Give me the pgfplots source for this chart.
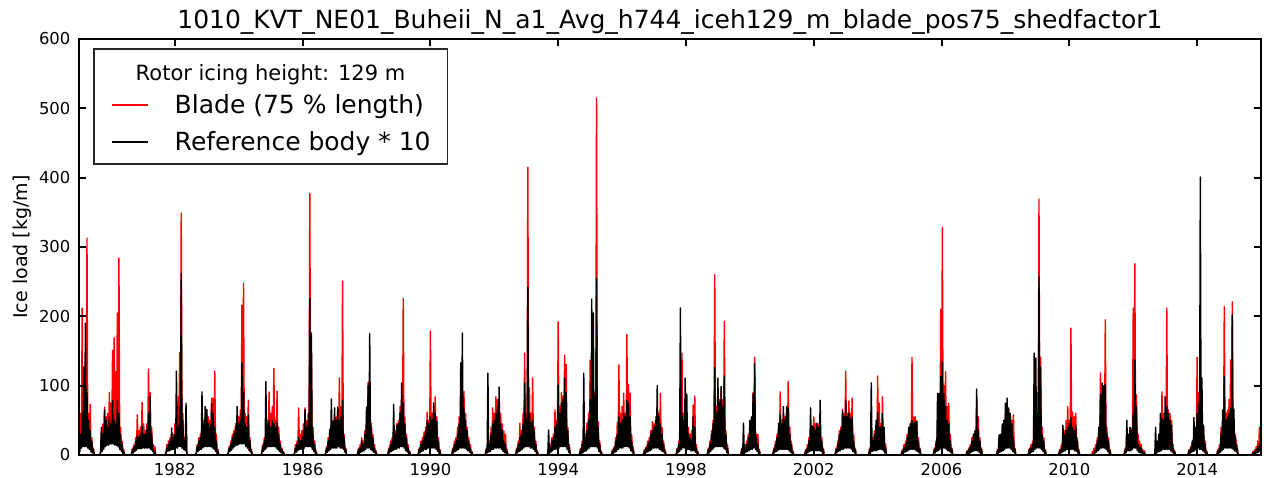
\documentclass[border=0pt]{standalone}
\usepackage{fontspec}
\setmainfont{DejaVu Sans}
\usepackage{pgfplots}
\usepackage{pgfplotstable}
\pgfplotsset{compat=1.18}
\pgfplotstableread{
x r b
1979.000 40 25
1979.025 8 5
1979.050 60 30
1979.075 12 10
1979.100 212 60
1979.125 15 12
1979.150 95 127
1979.175 15 12
1979.200 120 190
1979.225 15 12
1979.250 313 90
1979.275 12 10
1979.300 60 50
1979.325 10 8
1979.350 73 35
1979.375 6 4
1979.400 25 20
1979.425 4 3
1979.450 10 8
1979.475 2 1
1979.500 0 0
1979.650 0 0
1979.675 4 3
1979.700 30 40
1979.725 6 5
1979.750 45 30
1979.775 10 8
1979.800 69 65
1979.825 14 12
1979.850 55 50
1979.875 16 14
1979.900 60 40
1979.925 16 14
1979.950 90 55
1979.975 18 16
1980.000 75 45
1980.025 18 16
1980.050 151 79
1980.075 18 16
1980.100 169 50
1980.125 16 14
1980.150 120 45
1980.175 16 14
1980.200 205 78
1980.225 14 12
1980.250 284 60
1980.275 10 8
1980.300 40 30
1980.325 6 5
1980.350 20 15
1980.375 3 2
1980.400 8 5
1980.425 0 0
1980.625 0 0
1980.650 3 2
1980.675 10 8
1980.700 4 3
1980.725 15 12
1980.750 6 5
1980.775 25 20
1980.800 8 7
1980.825 58 28
1980.850 10 9
1980.875 35 25
1980.900 10 9
1980.925 40 30
1980.950 10 9
1980.975 76 41
1981.000 12 10
1981.025 45 30
1981.050 12 10
1981.075 35 30
1981.100 12 10
1981.125 45 36
1981.150 12 10
1981.175 124 60
1981.200 12 10
1981.225 90 84
1981.250 10 8
1981.275 40 30
1981.300 6 5
1981.325 15 8
1981.350 3 2
1981.375 12 5
1981.400 0 0
1981.700 0 0
1981.725 4 3
1981.750 15 10
1981.775 6 5
1981.800 20 15
1981.825 7 6
1981.850 25 20
1981.875 8 7
1981.900 30 39
1981.925 10 8
1981.950 30 25
1981.975 10 8
1982.000 45 30
1982.025 12 10
1982.050 60 121
1982.075 12 10
1982.100 84 40
1982.125 14 12
1982.150 148 70
1982.175 14 12
1982.200 349 262
1982.225 12 10
1982.250 60 50
1982.275 10 8
1982.300 25 20
1982.325 8 6
1982.350 70 75
1982.375 4 3
1982.400 0 0
1982.650 0 0
1982.675 4 3
1982.700 15 12
1982.725 6 5
1982.750 25 20
1982.775 8 7
1982.800 30 25
1982.825 10 8
1982.850 45 91
1982.875 12 10
1982.900 50 45
1982.925 14 12
1982.950 55 70
1982.975 14 12
1983.000 60 66
1983.025 14 12
1983.050 55 45
1983.075 14 12
1983.100 50 40
1983.125 14 12
1983.150 82 74
1983.175 12 10
1983.200 82 60
1983.225 10 8
1983.250 121 40
1983.275 6 5
1983.300 30 20
1983.325 3 2
1983.350 8 5
1983.375 0 0
1983.650 0 0
1983.675 4 3
1983.700 12 10
1983.725 6 5
1983.750 20 15
1983.775 8 7
1983.800 30 25
1983.825 12 10
1983.850 35 30
1983.875 14 12
1983.900 45 40
1983.925 16 14
1983.950 50 70
1983.975 16 14
1984.000 55 45
1984.025 18 16
1984.050 65 50
1984.075 18 16
1984.100 216 133
1984.125 18 16
1984.150 248 90
1984.175 18 16
1984.200 60 45
1984.225 14 12
1984.250 55 40
1984.275 12 10
1984.300 79 58
1984.325 8 6
1984.350 25 20
1984.375 5 4
1984.400 8 5
1984.425 0 0
1984.700 0 0
1984.725 4 3
1984.750 15 12
1984.775 6 5
1984.800 25 20
1984.825 10 8
1984.850 30 106
1984.875 12 10
1984.900 50 45
1984.925 14 12
1984.950 91 50
1984.975 14 12
1985.000 60 40
1985.025 14 12
1985.050 70 50
1985.075 14 12
1985.100 125 45
1985.125 14 12
1985.150 50 40
1985.175 12 10
1985.200 92 46
1985.225 10 8
1985.250 40 30
1985.275 6 5
1985.300 20 15
1985.325 4 3
1985.350 10 8
1985.375 3 2
1985.400 5 4
1985.425 0 0
1985.725 0 0
1985.750 4 3
1985.775 15 10
1985.800 5 4
1985.825 20 15
1985.850 8 6
1985.875 68 25
1985.900 10 8
1985.925 30 20
1985.950 10 8
1985.975 35 25
1986.000 12 10
1986.025 45 35
1986.050 12 10
1986.075 68 66
1986.100 14 12
1986.125 50 40
1986.150 14 12
1986.175 60 50
1986.200 14 12
1986.225 377 226
1986.250 14 12
1986.275 150 176
1986.300 10 8
1986.325 40 30
1986.350 6 5
1986.375 20 15
1986.400 3 2
1986.425 6 4
1986.450 0 0
1986.700 0 0
1986.725 4 3
1986.750 12 10
1986.775 5 4
1986.800 25 20
1986.825 8 6
1986.850 35 37
1986.875 10 8
1986.900 50 81
1986.925 12 10
1986.950 50 48
1986.975 12 10
1987.000 55 68
1987.025 12 10
1987.050 55 50
1987.075 12 10
1987.100 65 69
1987.125 14 12
1987.150 111 50
1987.175 12 10
1987.200 70 55
1987.225 12 10
1987.250 251 79
1987.275 10 8
1987.300 30 25
1987.325 5 4
1987.350 10 8
1987.375 0 0
1987.700 0 0
1987.725 3 2
1987.750 10 8
1987.775 3 2
1987.800 15 10
1987.825 5 4
1987.850 25 20
1987.875 6 5
1987.900 20 15
1987.925 8 6
1987.950 35 30
1987.975 10 8
1988.000 50 69
1988.025 12 10
1988.050 105 100
1988.075 12 10
1988.100 80 175
1988.125 10 8
1988.150 46 39
1988.175 8 6
1988.200 30 25
1988.225 5 4
1988.250 15 10
1988.275 3 2
1988.300 6 4
1988.325 0 0
1988.650 0 0
1988.675 3 2
1988.700 10 8
1988.725 4 3
1988.750 20 15
1988.775 6 5
1988.800 25 20
1988.825 8 6
1988.850 40 73
1988.875 10 8
1988.900 35 30
1988.925 10 8
1988.950 45 43
1988.975 12 10
1989.000 50 45
1989.025 12 10
1989.050 70 60
1989.075 14 12
1989.100 80 104
1989.125 14 12
1989.150 226 75
1989.175 12 10
1989.200 55 45
1989.225 8 6
1989.250 30 25
1989.275 5 4
1989.300 15 10
1989.325 3 2
1989.350 6 4
1989.375 0 0
1989.600 0 0
1989.625 3 2
1989.650 10 8
1989.675 4 3
1989.700 20 15
1989.725 6 5
1989.750 25 20
1989.775 8 6
1989.800 33 25
1989.825 10 8
1989.850 40 35
1989.875 10 8
1989.900 62 50
1989.925 12 10
1989.950 50 45
1989.975 12 10
1990.000 179 55
1990.025 12 10
1990.050 60 50
1990.075 12 10
1990.100 70 75
1990.125 12 10
1990.150 84 60
1990.175 10 8
1990.200 55 48
1990.225 6 5
1990.250 25 20
1990.275 3 2
1990.300 8 6
1990.325 0 0
1990.650 0 0
1990.675 3 2
1990.700 10 8
1990.725 4 3
1990.750 20 15
1990.775 6 5
1990.800 25 20
1990.825 8 6
1990.850 40 30
1990.875 10 8
1990.900 55 45
1990.925 12 10
1990.950 82 133
1990.975 12 10
1991.000 60 176
1991.025 12 10
1991.050 92 68
1991.075 12 10
1991.100 60 50
1991.125 10 8
1991.150 40 35
1991.175 8 6
1991.200 25 20
1991.225 5 4
1991.250 15 10
1991.275 3 2
1991.300 5 4
1991.325 0 0
1991.700 0 0
1991.725 3 2
1991.750 10 8
1991.775 4 3
1991.800 15 118
1991.825 5 4
1991.850 20 15
1991.875 6 5
1991.900 40 30
1991.925 10 8
1991.950 68 45
1991.975 10 8
1992.000 60 50
1992.025 12 10
1992.050 84 60
1992.075 12 10
1992.100 80 70
1992.125 12 10
1992.150 70 98
1992.175 12 10
1992.200 60 45
1992.225 10 8
1992.250 45 35
1992.275 6 5
1992.300 35 20
1992.325 4 3
1992.350 30 15
1992.375 3 2
1992.400 8 5
1992.425 0 0
1992.650 0 0
1992.675 3 2
1992.700 10 8
1992.725 4 3
1992.750 20 15
1992.775 6 5
1992.800 46 25
1992.825 8 6
1992.850 35 30
1992.875 10 8
1992.900 60 45
1992.925 12 10
1992.950 147 104
1992.975 14 12
1993.000 60 50
1993.025 14 12
1993.050 415 242
1993.075 14 12
1993.100 97 60
1993.125 12 10
1993.150 60 46
1993.175 12 10
1993.200 111 50
1993.225 10 8
1993.250 40 35
1993.275 6 5
1993.300 20 15
1993.325 3 2
1993.350 6 4
1993.375 0 0
1993.650 0 0
1993.675 3 2
1993.700 10 36
1993.725 3 2
1993.750 15 10
1993.775 5 4
1993.800 25 20
1993.825 8 6
1993.850 30 25
1993.875 10 8
1993.900 65 40
1993.925 10 8
1993.950 50 45
1993.975 12 10
1994.000 192 101
1994.025 12 10
1994.050 70 60
1994.075 14 12
1994.100 90 75
1994.125 14 12
1994.150 85 80
1994.175 14 12
1994.200 144 111
1994.225 14 12
1994.250 131 90
1994.275 10 8
1994.300 40 35
1994.325 5 4
1994.350 15 10
1994.375 0 0
1994.650 0 0
1994.675 3 2
1994.700 10 8
1994.725 3 2
1994.750 20 15
1994.775 4 3
1994.800 25 118
1994.825 6 5
1994.850 30 25
1994.875 8 6
1994.900 46 35
1994.925 10 8
1994.950 60 50
1994.975 12 10
1995.000 137 80
1995.025 14 12
1995.050 120 225
1995.075 14 12
1995.100 70 205
1995.125 14 12
1995.150 90 84
1995.175 14 12
1995.200 515 255
1995.225 12 10
1995.250 48 40
1995.275 6 5
1995.300 20 15
1995.325 3 2
1995.350 6 4
1995.375 0 0
1995.650 0 0
1995.675 3 2
1995.700 8 6
1995.725 3 2
1995.750 12 10
1995.775 5 4
1995.800 25 20
1995.825 6 5
1995.850 47 30
1995.875 10 8
1995.900 130 55
1995.925 12 10
1995.950 60 45
1995.975 12 10
1996.000 70 50
1996.025 12 10
1996.050 89 60
1996.075 14 12
1996.100 60 55
1996.125 14 12
1996.150 174 79
1996.175 14 12
1996.200 102 75
1996.225 12 10
1996.250 89 55
1996.275 8 6
1996.300 30 20
1996.325 4 3
1996.350 12 8
1996.375 0 0
1996.650 0 0
1996.675 3 2
1996.700 8 6
1996.725 3 2
1996.750 12 10
1996.775 5 4
1996.800 20 15
1996.825 6 5
1996.850 25 20
1996.875 8 6
1996.900 35 30
1996.925 10 8
1996.950 48 35
1996.975 12 10
1997.000 45 40
1997.025 12 10
1997.050 55 50
1997.075 12 10
1997.100 70 100
1997.125 12 10
1997.150 60 55
1997.175 10 8
1997.200 89 45
1997.225 8 6
1997.250 40 30
1997.275 6 5
1997.300 20 15
1997.325 4 3
1997.350 8 5
1997.375 0 0
1997.675 0 0
1997.700 3 2
1997.725 10 8
1997.750 4 3
1997.775 20 15
1997.800 6 5
1997.825 58 212
1997.850 10 8
1997.875 147 60
1997.900 12 10
1997.925 60 50
1997.950 12 10
1997.975 80 111
1998.000 12 10
1998.025 50 88
1998.050 10 8
1998.075 40 30
1998.100 10 8
1998.125 30 25
1998.150 8 6
1998.175 35 20
1998.200 8 6
1998.225 72 55
1998.250 8 6
1998.275 85 40
1998.300 5 4
1998.325 15 10
1998.350 3 2
1998.375 5 3
1998.400 0 0
1998.650 0 0
1998.675 3 2
1998.700 10 8
1998.725 4 3
1998.750 20 15
1998.775 6 5
1998.800 35 30
1998.825 10 8
1998.850 50 45
1998.875 12 10
1998.900 260 126
1998.925 14 12
1998.950 70 60
1998.975 14 12
1999.000 90 111
1999.025 14 12
1999.050 80 76
1999.075 14 12
1999.100 95 99
1999.125 14 12
1999.150 80 70
1999.175 12 10
1999.200 193 114
1999.225 10 8
1999.250 35 30
1999.275 5 4
1999.300 15 10
1999.325 0 0
1999.700 0 0
1999.725 3 2
1999.750 10 8
1999.775 3 2
1999.800 15 46
1999.825 3 2
1999.850 15 10
1999.875 5 4
1999.900 20 15
1999.925 6 5
1999.950 30 25
1999.975 8 6
2000.000 40 50
2000.025 10 8
2000.050 50 55
2000.075 10 8
2000.100 90 88
2000.125 12 10
2000.150 141 132
2000.175 10 8
2000.200 30 25
2000.225 6 5
2000.250 30 15
2000.275 3 2
2000.300 8 5
2000.325 0 0
2000.700 0 0
2000.725 3 2
2000.750 10 8
2000.775 4 3
2000.800 20 15
2000.825 6 5
2000.850 30 25
2000.875 8 6
2000.900 40 46
2000.925 10 8
2000.950 91 58
2000.975 10 8
2001.000 50 45
2001.025 10 8
2001.050 60 70
2001.075 10 8
2001.100 55 50
2001.125 10 8
2001.150 60 70
2001.175 10 8
2001.200 106 68
2001.225 8 6
2001.250 40 30
2001.275 5 4
2001.300 20 15
2001.325 3 2
2001.350 6 4
2001.375 0 0
2001.700 0 0
2001.725 3 2
2001.750 8 6
2001.775 3 2
2001.800 15 10
2001.825 5 4
2001.850 25 20
2001.875 6 5
2001.900 40 68
2001.925 8 6
2001.950 35 42
2001.975 8 6
2002.000 55 40
2002.025 8 6
2002.050 45 35
2002.075 8 6
2002.100 40 46
2002.125 8 6
2002.150 45 40
2002.175 8 6
2002.200 50 79
2002.225 6 5
2002.250 25 20
2002.275 3 2
2002.300 10 8
2002.325 0 0
2002.650 0 0
2002.675 3 2
2002.700 10 8
2002.725 4 3
2002.750 20 15
2002.775 6 5
2002.800 35 30
2002.825 8 6
2002.850 40 35
2002.875 10 8
2002.900 66 63
2002.925 10 8
2002.950 60 55
2002.975 12 10
2003.000 121 79
2003.025 12 10
2003.050 60 55
2003.075 12 10
2003.100 78 60
2003.125 12 10
2003.150 60 52
2003.175 10 8
2003.200 82 55
2003.225 6 5
2003.250 30 20
2003.275 4 3
2003.300 10 8
2003.325 0 0
2003.700 0 0
2003.725 3 2
2003.750 10 8
2003.775 3 2
2003.800 30 104
2003.825 6 5
2003.850 25 20
2003.875 8 6
2003.900 35 30
2003.925 8 6
2003.950 40 50
2003.975 8 6
2004.000 114 61
2004.025 10 8
2004.050 75 40
2004.075 10 8
2004.100 45 40
2004.125 10 8
2004.150 84 60
2004.175 8 6
2004.200 40 40
2004.225 4 3
2004.250 15 10
2004.275 0 0
2004.725 0 0
2004.750 3 2
2004.775 8 6
2004.800 3 2
2004.825 15 10
2004.850 5 4
2004.875 20 15
2004.900 6 5
2004.925 30 25
2004.950 8 6
2004.975 40 40
2005.000 10 8
2005.025 45 45
2005.050 10 8
2005.075 141 50
2005.100 10 8
2005.125 55 45
2005.150 10 8
2005.175 55 48
2005.200 8 6
2005.225 50 48
2005.250 6 5
2005.275 25 20
2005.300 4 3
2005.325 10 8
2005.350 0 0
2005.725 0 0
2005.750 3 2
2005.775 10 8
2005.800 4 3
2005.825 20 15
2005.850 6 5
2005.875 40 89
2005.900 8 6
2005.925 50 89
2005.950 10 8
2005.975 210 113
2006.000 12 10
2006.025 328 134
2006.050 12 10
2006.075 100 89
2006.100 12 10
2006.125 120 70
2006.150 10 8
2006.175 70 50
2006.200 8 6
2006.225 75 45
2006.250 6 5
2006.275 30 20
2006.300 4 3
2006.325 10 8
2006.350 0 0
2006.750 0 0
2006.775 2 1
2006.800 6 5
2006.825 2 1
2006.850 10 8
2006.875 3 2
2006.900 15 12
2006.925 5 4
2006.950 25 20
2006.975 6 5
2007.000 30 30
2007.025 8 6
2007.050 35 35
2007.075 8 6
2007.100 80 95
2007.125 8 6
2007.150 55 35
2007.175 5 4
2007.200 25 20
2007.225 3 2
2007.250 10 8
2007.275 0 0
2007.700 0 0
2007.725 2 1
2007.750 8 6
2007.775 3 2
2007.800 20 29
2007.825 5 4
2007.850 25 30
2007.875 6 5
2007.900 35 45
2007.925 8 6
2007.950 45 50
2007.975 10 8
2008.000 60 75
2008.025 12 10
2008.050 70 82
2008.075 12 10
2008.100 65 68
2008.125 12 10
2008.150 60 60
2008.175 10 8
2008.200 50 45
2008.225 6 5
2008.250 58 25
2008.275 4 3
2008.300 10 8
2008.325 0 0
2008.700 0 0
2008.725 3 2
2008.750 10 8
2008.775 3 2
2008.800 15 10
2008.825 5 4
2008.850 20 15
2008.875 6 5
2008.900 100 147
2008.925 10 8
2008.950 80 140
2008.975 12 10
2009.000 90 60
2009.025 12 10
2009.050 369 257
2009.075 12 10
2009.100 141 127
2009.125 10 8
2009.150 40 30
2009.175 6 5
2009.200 25 20
2009.225 3 2
2009.250 8 6
2009.275 0 0
2009.650 0 0
2009.675 3 2
2009.700 8 6
2009.725 3 2
2009.750 15 10
2009.775 5 4
2009.800 30 43
2009.825 6 5
2009.850 35 30
2009.875 8 6
2009.900 50 35
2009.925 10 8
2009.950 70 40
2009.975 10 8
2010.000 50 45
2010.025 10 8
2010.050 183 54
2010.075 10 8
2010.100 62 40
2010.125 10 8
2010.150 55 35
2010.175 8 6
2010.200 60 43
2010.225 6 5
2010.250 25 20
2010.275 3 2
2010.300 8 5
2010.325 0 0
2010.700 0 0
2010.725 5 1
2010.750 3 1
2010.775 10 2
2010.800 4 3
2010.825 15 10
2010.850 5 4
2010.875 25 20
2010.900 8 6
2010.925 40 40
2010.950 10 8
2010.975 118 87
2011.000 12 10
2011.025 80 104
2011.050 12 10
2011.075 90 100
2011.100 12 10
2011.125 195 102
2011.150 10 8
2011.175 40 30
2011.200 6 5
2011.225 25 20
2011.250 3 2
2011.275 8 5
2011.300 0 0
2011.700 0 0
2011.725 3 2
2011.750 10 8
2011.775 4 3
2011.800 35 50
2011.825 8 6
2011.850 30 30
2011.875 8 6
2011.900 40 40
2011.925 8 6
2011.950 38 35
2011.975 10 8
2012.000 212 60
2012.025 12 10
2012.050 276 137
2012.075 12 10
2012.100 87 70
2012.125 8 6
2012.150 30 15
2012.175 5 4
2012.200 20 12
2012.225 4 3
2012.250 15 10
2012.275 3 2
2012.300 8 5
2012.325 2 1
2012.350 6 4
2012.375 0 0
2012.650 0 0
2012.675 3 2
2012.700 10 40
2012.725 3 2
2012.750 15 20
2012.775 5 4
2012.800 25 30
2012.825 6 5
2012.850 40 60
2012.875 8 6
2012.900 91 53
2012.925 10 8
2012.950 60 50
2012.975 10 8
2013.000 60 84
2013.025 10 8
2013.050 212 70
2013.075 10 8
2013.100 65 60
2013.125 10 8
2013.150 60 50
2013.175 8 6
2013.200 50 43
2013.225 5 4
2013.250 15 10
2013.275 3 2
2013.300 6 4
2013.325 0 0
2013.700 0 0
2013.725 3 2
2013.750 8 6
2013.775 3 2
2013.800 12 10
2013.825 5 4
2013.850 20 20
2013.875 6 5
2013.900 30 54
2013.925 8 6
2013.950 40 40
2013.975 10 8
2014.000 141 60
2014.025 12 10
2014.050 90 75
2014.075 10 8
2014.100 20 401
2014.125 10 8
2014.150 40 111
2014.175 8 6
2014.200 40 43
2014.225 5 4
2014.250 20 15
2014.275 3 2
2014.300 6 4
2014.325 0 0
2014.600 0 0
2014.625 3 2
2014.650 8 6
2014.675 3 2
2014.700 15 10
2014.725 5 4
2014.750 40 30
2014.775 8 6
2014.800 50 65
2014.825 10 8
2014.850 214 113
2014.875 12 10
2014.900 60 50
2014.925 12 10
2014.950 65 55
2014.975 12 10
2015.000 80 60
2015.025 12 10
2015.050 137 68
2015.075 12 10
2015.100 221 202
2015.125 10 8
2015.150 43 66
2015.175 8 6
2015.200 30 25
2015.225 5 4
2015.250 15 10
2015.275 3 2
2015.300 0 0
2015.700 0 0
2015.725 2 1
2015.750 5 3
2015.775 2 1
2015.800 8 5
2015.825 3 2
2015.850 12 8
2015.875 4 3
2015.900 20 12
2015.925 5 4
2015.950 40 15
2015.975 8 6
2016.000 30 10
}\icedata
\begin{document}
\begin{tikzpicture}
\begin{axis}[
  name=ax,
  scale only axis, width=591pt, height=208pt,
  xmin=1979, xmax=2016, ymin=0, ymax=600,
  xtick={1982,1986,...,2014},
  ytick={0,100,...,600},
  /pgf/number format/1000 sep={},
  /pgf/number format/assume math mode=true,
  tick label style={font=\fontsize{8.2}{10}\selectfont},
  xticklabel style={yshift=-0.7pt},
  yticklabel style={xshift=-0.8pt},
  tick align=inside, tick pos=both,
  major tick length=3.5pt,
  tick style={black, line width=1pt},
  axis line style={line width=1.2pt},
  axis on top,
  no markers,
  ylabel={Ice load [kg/m]},
  ylabel style={font=\fontsize{9.5}{11}\selectfont, at={(axis description cs:-0.0482,0.5)}, anchor=center},
  title={1010\_KVT\_NE01\_Buheii\_N\_a1\_Avg\_h744\_iceh129\_m\_blade\_pos75\_shedfactor1},
  every axis title shift=0pt,
  title style={font=\fontsize{12.5}{15}\selectfont, at={(axis description cs:0.5,1)}, anchor=south, yshift=2pt, inner sep=0pt},
  legend cell align=left,
  legend image code/.code={\draw[#1, line width=1pt] (0pt,0pt) -- (18pt,0pt);},
  legend style={
    at={(axis description cs:0.0118,0.978)}, anchor=north west,
    font=\fontsize{12.5}{15}\selectfont,
    draw=black!85, line width=0.8pt, fill=white,
    inner xsep=8.5pt, inner ysep=2pt,
    row sep=0pt, column sep=13pt,
    nodes={inner sep=0pt, text depth=},
  },
]
\addlegendimage{empty legend}
\addlegendentry{\fontsize{10.5}{12}\selectfont\hspace*{-19.5pt}Rotor icing height: 129 m\rule[-2.5pt]{0pt}{16.5pt}}
\addplot[color=red, line width=0.7pt, line join=round] table[x=x, y=r] {\icedata};
\addlegendentry{Blade (75 \% length)\rule[-4.9pt]{0pt}{18.9pt}}
\addplot[color=black, line width=0.7pt, line join=round] table[x=x, y=b] {\icedata};
\addlegendentry{Reference body * 10\rule[-4.5pt]{0pt}{18.1pt}}
\end{axis}
\pgfresetboundingbox
\path[use as bounding box] ([shift={(-39.5pt,-11pt)}]ax.south west) rectangle ([shift={(4.5pt,19.5pt)}]ax.north east);
\end{tikzpicture}
\end{document}
